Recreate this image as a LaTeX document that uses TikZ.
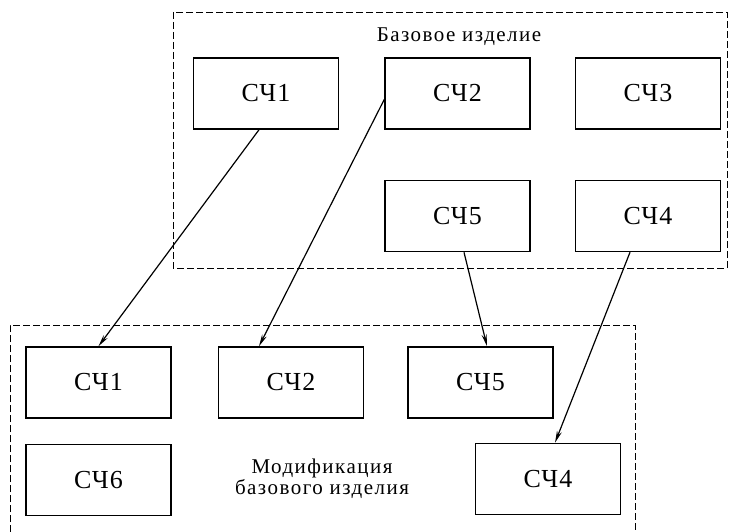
\documentclass[tikz,border=0pt]{standalone}
\usepackage{fontspec}
\setmainfont{Liberation Serif}
\usetikzlibrary{positioning,arrows.meta,calc}

\begin{document}
\begin{tikzpicture}[
    x=1pt, y=-1pt,
    node distance=45pt and 45pt,
    part/.style={draw, line width=1.5pt, minimum width=145pt, minimum height=71pt, font=\fontsize{26}{30}\selectfont\addfontfeatures{LetterSpace=4}},
    group/.style={draw, line width=0.8pt, dash pattern=on 7pt off 3pt},
    grouplabel/.style={align=center, font=\fontsize{21}{21}\selectfont\addfontfeatures{LetterSpace=7}},
    link/.style={-{Stealth[length=12pt, width=5pt]}, line width=1.2pt}
]
\useasboundingbox (0,0) rectangle (734,532);

% base product
\draw[group] (173,12) rectangle (727,268);
\node[grouplabel] (basetitle) at (459,37) {Базовое изделие};
\node[part] (b1) at (266,93.5) {СЧ1};
\node[part, right=45pt of b1] (b2) {СЧ2};
\node[part, right=44pt of b2] (b3) {СЧ3};
\node[part, below=50pt of b2] (b5) {СЧ5};
\node[part, below=50pt of b3] (b4) {СЧ4};

% modification
\draw[group] (10,532) -- (10,325) -- (635,325) -- (635,532);
\node[part] (m1) at (98.5,382.5) {СЧ1};
\node[part, right=46pt of m1] (m2) {СЧ2};
\node[part, right=43pt of m2] (m5) {СЧ5};
\node[part, below=25pt of m1] (m6) {СЧ6};
\node[part] (m4) at (548,479) {СЧ4};
\node[grouplabel] (modtitle) at (322,479) {Модификация\\базового изделия};

\draw[link] ([xshift=-7pt]b1.south) -- (m1.north);
\draw[link] ([yshift=-6pt]b2.west) -- ([xshift=-32pt]m2.north);
\draw[link] ([xshift=6.5pt]b5.south) -- ([xshift=6.5pt]m5.north);
\draw[link] ([xshift=-18pt]b4.south) -- ([xshift=7pt]m4.north);
\end{tikzpicture}
\end{document}
